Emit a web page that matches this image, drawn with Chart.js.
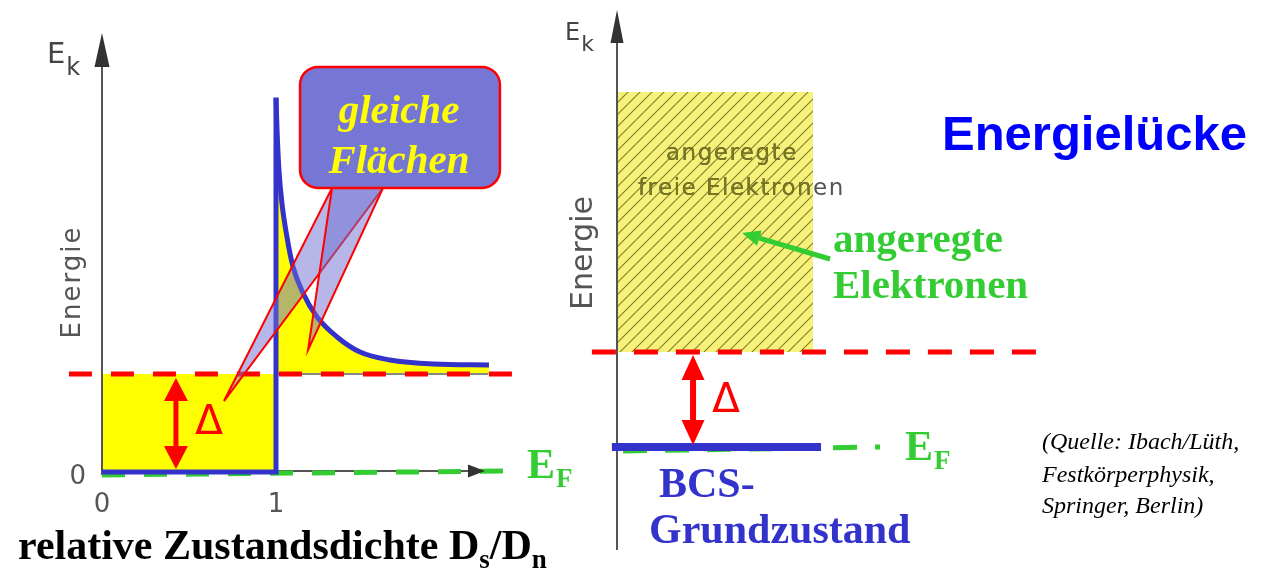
<!DOCTYPE html>
<html><head><meta charset="utf-8">
<script src="https://cdn.jsdelivr.net/npm/chart.js@4"></script>
<style>html,body{margin:0;padding:0;background:#fff;overflow:hidden}</style>
</head><body>
<canvas id="c" width="1261" height="571" style="display:block;width:1261px;height:571px"></canvas>
<script>
// ---------- LEFT PANEL: relative density of states D_s/D_n (x) vs energy in units of Δ (y) ----------
const dosStepX  = [0, 1, 1];
const dosStepY  = [0, 0, 3.82];
const dosCurveX = [1.0, 1.006, 1.017, 1.034, 1.063, 1.098, 1.155, 1.236, 1.351, 1.483, 1.655, 1.902, 2.224];
const dosCurveY = [3.82, 3.49, 3.08, 2.745, 2.398, 2.092, 1.827, 1.582, 1.378, 1.224, 1.143, 1.102, 1.092];
const gapEnergy = 1;                 // Δ
const leftGapLineX = [-0.19, 2.356];  // red dashed level at Δ
const leftFermiX = [0.0, 2.345];
const leftFermiY = [-0.03, 0.01];
const leftXTickValues = [0, 1];
const leftXTickLabels = ['0', '1'];
const leftYTickValues = [0];
const leftYTickLabels = ['0'];

// ---------- RIGHT PANEL: energy levels ----------
const bandX = [0, 1];
const bandTop = 3.737;               // top of excited free-electron band
const bcsX = [-0.026, 1.041];
const bcsLevel = 0;
const rightGapLineX = [-0.128, 2.138];
const rightFermiX = [0.031, 1.342];
const rightFermiY = [-0.042, 0.0];

const L = {xAxisID: 'xL', yAxisID: 'yL'};
const R = {xAxisID: 'xR', yAxisID: 'yR'};
const pts = (xs, ys) => xs.map((x, i) => ({x, y: Array.isArray(ys) ? ys[i] : ys}));

function hatchPattern() {
  const c = document.createElement('canvas'); c.width = c.height = 12;
  const g = c.getContext('2d');
  g.fillStyle = 'rgba(243,236,70,0.72)'; g.fillRect(0, 0, 12, 12);
  g.strokeStyle = 'rgba(105,100,20,0.8)'; g.lineWidth = 1.1;
  g.beginPath();
  g.moveTo(-1, 13); g.lineTo(13, -1);
  g.moveTo(-1, 1); g.lineTo(1, -1);
  g.moveTo(11, 13); g.lineTo(13, 11);
  g.stroke();
  return g.createPattern(c, 'repeat');
}

const datasets = [
  // fills (drawn first)
  {...L, data: pts([0, 1], [gapEnergy, gapEnergy]), fill: {value: 0}, backgroundColor: '#ffff00', borderWidth: 0, order: 10},
  {...L, data: pts(dosCurveX, dosCurveY), fill: {value: gapEnergy}, backgroundColor: '#ffff00', borderWidth: 0, cubicInterpolationMode: 'monotone', order: 10},
  {...R, data: pts(bandX, [bandTop, bandTop]), fill: {value: gapEnergy}, backgroundColor: hatchPattern(), borderWidth: 0, order: 10},
  // axes
  {...L, data: pts([0, 0], [-0.03, 4.133]), borderColor: '#555', borderWidth: 2, order: 8},
  {...L, data: pts([0, 2.103], [0.0102, 0.0102]), borderColor: '#555', borderWidth: 2, order: 8},
  {...L, data: pts([1, 2.22], [gapEnergy, gapEnergy]), borderColor: '#888', borderWidth: 2, order: 8},
  {...R, data: pts([0, 0], [-1.084, 4.253]), borderColor: '#555', borderWidth: 2, order: 8},
  // Fermi levels (green dashed)
  {...L, data: pts(leftFermiX, leftFermiY), borderColor: '#33cc33', borderWidth: 5, borderDash: [23, 19], order: 6},
  {...R, data: pts(rightFermiX, rightFermiY), borderColor: '#33cc33', borderWidth: 5, borderDash: [24, 18], order: 6},
  // gap levels (red dashed)
  {...L, data: pts(leftGapLineX, [gapEnergy, gapEnergy]), borderColor: '#ff0000', borderWidth: 5, borderDash: [23, 19], order: 4},
  {...R, data: pts(rightGapLineX, [gapEnergy, gapEnergy]), borderColor: '#ff0000', borderWidth: 5, borderDash: [24, 18], order: 4},
  // blue lines
  {...L, data: pts(dosStepX, dosStepY), borderColor: '#3333cc', borderWidth: 5, borderJoinStyle: 'miter', order: 2},
  {...L, data: pts(dosCurveX, dosCurveY), borderColor: '#3333cc', borderWidth: 5, cubicInterpolationMode: 'monotone', order: 2},
  {...R, data: pts(bcsX, [bcsLevel, bcsLevel]), borderColor: '#3333cc', borderWidth: 8, order: 2}
];

function head(ctx, tx, ty, bx, by, hw, color) {
  const dx = tx - bx, dy = ty - by, len = Math.hypot(dx, dy);
  const nx = -dy / len, ny = dx / len;
  ctx.fillStyle = color;
  ctx.beginPath();
  ctx.moveTo(tx, ty);
  ctx.lineTo(bx + nx * hw, by + ny * hw);
  ctx.lineTo(bx - nx * hw, by - ny * hw);
  ctx.closePath(); ctx.fill();
}
function dArrow(ctx, x, y1, y2, color, shaft, hw, hl) {
  ctx.strokeStyle = color; ctx.lineWidth = shaft; ctx.lineCap = 'butt';
  ctx.beginPath(); ctx.moveTo(x, y1 + hl - 1); ctx.lineTo(x, y2 - hl + 1); ctx.stroke();
  head(ctx, x, y1, x, y1 + hl, hw, color);
  head(ctx, x, y2, x, y2 - hl, hw, color);
}
function text(ctx, s, x, y, font, color, align) {
  ctx.font = font; ctx.fillStyle = color; ctx.textAlign = align || 'left'; ctx.textBaseline = 'alphabetic';
  ctx.fillText(s, x, y);
  return ctx.measureText(s).width;
}
function withSub(ctx, main, x, y, font, sub, subFont, dy, color) {
  const w = text(ctx, main, x, y, font, color);
  text(ctx, sub, x + w + 1, y + dy, subFont, color);
}

const annot = {
  id: 'annot',
  afterDatasetsDraw(chart) {
    const ctx = chart.ctx, s = chart.scales;
    const xl = v => s.xL.getPixelForValue(v), yl = v => s.yL.getPixelForValue(v);
    const xr = v => s.xR.getPixelForValue(v), yr = v => s.yR.getPixelForValue(v);
    ctx.save();
    ctx.letterSpacing = '0px';

    // axis arrowheads
    head(ctx, xl(0), yl(4.48), xl(0), yl(4.133), 7.5, '#333');
    head(ctx, xl(2.201), yl(0.0102), xl(2.103), yl(0.0102), 6.5, '#333');
    head(ctx, xr(0), yr(4.6), xr(0), yr(4.253), 6.5, '#333');

    // Δ double arrows
    dArrow(ctx, xl(0.425), yl(0.959), yl(0.031), '#ff0000', 5, 12, 23);
    dArrow(ctx, xr(0.388), yr(0.968), yr(0.021), '#ff0000', 6, 11.5, 25);

    // green pointer arrow
    const gtx = xr(0.638), gty = yr(2.253), gbx = xr(1.087), gby = yr(1.979);
    const ang = Math.atan2(gty - gby, gtx - gbx);
    const hbx = gtx - Math.cos(ang) * 18, hby = gty - Math.sin(ang) * 18;
    ctx.strokeStyle = '#33cc33'; ctx.lineWidth = 5;
    ctx.beginPath(); ctx.moveTo(gbx, gby); ctx.lineTo(hbx, hby); ctx.stroke();
    head(ctx, gtx, gty, hbx, hby, 8, '#33cc33');

    // callout pointers
    const c1 = [xl(1.322), yl(2.898)], c2 = [xl(1.615), yl(2.898)];
    const tips = [[xl(0.701), yl(0.724)], [xl(1.184), yl(1.245)]];
    tips.forEach(t => {
      ctx.beginPath(); ctx.moveTo(c1[0], c1[1]); ctx.lineTo(t[0], t[1]); ctx.lineTo(c2[0], c2[1]); ctx.closePath();
      ctx.fillStyle = 'rgba(110,110,210,0.5)'; ctx.fill();
      ctx.strokeStyle = '#ff0000'; ctx.lineWidth = 2; ctx.stroke();
    });
    // callout box
    const bx0 = xl(1.138), bx1 = xl(2.287), by0 = yl(4.133), by1 = yl(2.898);
    ctx.beginPath(); ctx.roundRect(bx0, by0, bx1 - bx0, by1 - by0, 18);
    ctx.fillStyle = 'rgb(118,118,212)'; ctx.fill();
    ctx.strokeStyle = '#ff0000'; ctx.lineWidth = 2.5; ctx.stroke();
    text(ctx, 'gleiche', 399, 123, 'italic bold 41px "Liberation Serif"', '#ffff00', 'center');
    text(ctx, 'Flächen', 399, 173, 'italic bold 41px "Liberation Serif"', '#ffff00', 'center');

    // ---- left panel texts ----
    const gray = '#555';
    withSub(ctx, 'E', 47, 63, '29px "DejaVu Sans"', 'k', '24px "DejaVu Sans"', 12, '#444');
    ctx.save(); ctx.translate(80, 282); ctx.rotate(-Math.PI / 2); ctx.letterSpacing = '2px';
    text(ctx, 'Energie', 0, 0, '26px "DejaVu Sans"', gray, 'center'); ctx.restore();
    leftYTickValues.forEach((v, i) => text(ctx, leftYTickLabels[i], 86, yl(v) + 12, '26px "DejaVu Sans"', gray, 'right'));
    leftXTickValues.forEach((v, i) => text(ctx, leftXTickLabels[i], xl(v), 512, '26px "DejaVu Sans"', gray, 'center'));
    text(ctx, 'Δ', 209, 434, '41px "DejaVu Sans"', '#ff0000', 'center');
    withSub(ctx, 'E', 527, 478, 'bold 42px "Liberation Serif"', 'F', 'bold 27px "Liberation Serif"', 9, '#33cc33');
    // bottom axis title
    let x = 18; const bf = 'bold 42px "Liberation Serif"', sf = 'bold 27px "Liberation Serif"';
    x += text(ctx, 'relative Zustandsdichte D', x, 559, bf, '#000');
    x += text(ctx, 's', x, 568, sf, '#000');
    x += text(ctx, '/D', x, 559, bf, '#000');
    text(ctx, 'n', x, 568, sf, '#000');

    // ---- right panel texts ----
    withSub(ctx, 'E', 565, 40, '24px "DejaVu Sans"', 'k', '22px "DejaVu Sans"', 11, '#444');
    ctx.save(); ctx.translate(592, 253); ctx.rotate(-Math.PI / 2);
    text(ctx, 'Energie', 0, 0, '30px "DejaVu Sans"', gray, 'center'); ctx.restore();
    // text in the hatched band
    ctx.save(); ctx.letterSpacing = '1.5px';
    const bandFont = '23px "DejaVu Sans"';
    text(ctx, 'angeregte', 666, 160, bandFont, gray);
    text(ctx, 'freie Elektronen', 638, 195, bandFont, gray);
    ctx.beginPath(); ctx.rect(xr(0), yr(bandTop), xr(1) - xr(0), yr(gapEnergy) - yr(bandTop)); ctx.clip();
    text(ctx, 'angeregte', 666, 160, bandFont, 'rgb(120,118,30)');
    text(ctx, 'freie Elektronen', 638, 195, bandFont, 'rgb(120,118,30)');
    ctx.restore();
    text(ctx, 'Δ', 726, 412, '41px "DejaVu Sans"', '#ff0000', 'center');
    withSub(ctx, 'E', 905, 460, 'bold 42px "Liberation Serif"', 'F', 'bold 27px "Liberation Serif"', 9, '#33cc33');
    text(ctx, 'BCS-', 659, 497, 'bold 42px "Liberation Serif"', '#3333cc');
    text(ctx, 'Grundzustand', 649, 543, 'bold 42px "Liberation Serif"', '#3333cc');
    text(ctx, 'angeregte', 833, 252, 'bold 41px "Liberation Serif"', '#33cc33');
    text(ctx, 'Elektronen', 833, 298, 'bold 41px "Liberation Serif"', '#33cc33');
    text(ctx, 'Energielücke', 942, 150, 'bold 49px "Liberation Sans"', '#0000ff');
    const cf = 'italic 24px "Liberation Serif"';
    text(ctx, '(Quelle: Ibach/Lüth,', 1042, 449, cf, '#000');
    text(ctx, 'Festkörperphysik,', 1042, 482, cf, '#000');
    text(ctx, 'Springer, Berlin)', 1042, 513, cf, '#000');
    ctx.restore();
  }
};

const chart = new Chart(document.getElementById('c'), {
  type: 'line',
  data: {datasets},
  options: {
    responsive: false, animation: false, devicePixelRatio: 1, events: [],
    layout: {padding: 0},
    plugins: {legend: {display: false}, tooltip: {enabled: false}},
    elements: {point: {radius: 0, hoverRadius: 0}, line: {tension: 0, borderCapStyle: 'butt'}},
    scales: {
      xL: {type: 'linear', axis: 'x', display: false, min: -0.5862, max: 6.6609},
      yL: {type: 'linear', axis: 'y', display: false, min: -1.0102, max: 4.8163},
      xR: {type: 'linear', axis: 'x', display: false, min: -3.148, max: 3.2857},
      yR: {type: 'linear', axis: 'y', display: false, min: -1.3053, max: 4.705}
    }
  },
  plugins: [annot]
});
</script>
</body></html>
